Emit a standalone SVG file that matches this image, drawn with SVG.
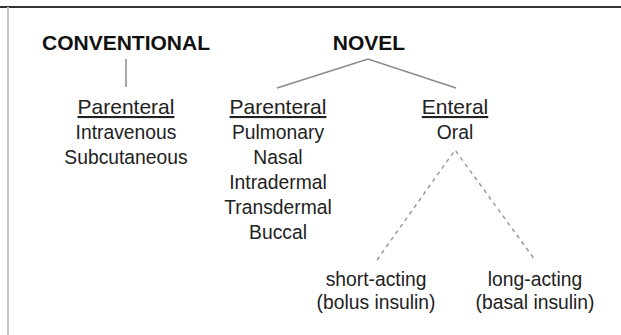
<svg xmlns="http://www.w3.org/2000/svg" width="621" height="335" viewBox="0 0 621 335">
<style>
text{font-family:"Liberation Sans",Arial,sans-serif;text-anchor:middle;fill:#222}
.h{font-weight:bold;font-size:21px;fill:#111}
.s{font-size:21px;text-decoration:underline}
.t{font-size:19.3px}
.c{stroke:#8a8a8a;stroke-width:1.5;fill:none}
.d{stroke:#9a9a9a;stroke-width:1.5;fill:none;stroke-dasharray:4 4}
</style>
<rect width="621" height="335" fill="#fff"/>
<line x1="0" y1="7" x2="621" y2="7" stroke="#333" stroke-width="2"/>
<line x1="8" y1="7" x2="8" y2="335" stroke="#c8c8c8" stroke-width="2"/>
<g id="connectors">
<line class="c" x1="126" y1="59" x2="126" y2="87"/>
<polyline class="c" points="277,88 368,59 456,88"/>
<polyline class="d" points="377,260 455,150 535,260"/>
</g>
<g id="conventional"><text class="h" x="126" y="50">CONVENTIONAL</text></g>
<g id="novel"><text class="h" x="369" y="50">NOVEL</text></g>
<g id="conv-parenteral">
<text class="s" x="126" y="114">Parenteral</text>
<text class="t" x="126" y="139">Intravenous</text>
<text class="t" x="126" y="164">Subcutaneous</text>
</g>
<g id="novel-parenteral">
<text class="s" x="278" y="114">Parenteral</text>
<text class="t" x="278" y="139">Pulmonary</text>
<text class="t" x="278" y="164">Nasal</text>
<text class="t" x="278" y="189">Intradermal</text>
<text class="t" x="278" y="214">Transdermal</text>
<text class="t" x="278" y="239">Buccal</text>
</g>
<g id="enteral">
<text class="s" x="455" y="114">Enteral</text>
<text class="t" x="455" y="139">Oral</text>
</g>
<g id="short-acting">
<text class="t" x="376" y="286">short-acting</text>
<text class="t" x="376" y="309">(bolus insulin)</text>
</g>
<g id="long-acting">
<text class="t" x="535" y="286">long-acting</text>
<text class="t" x="535" y="309">(basal insulin)</text>
</g>
</svg>
